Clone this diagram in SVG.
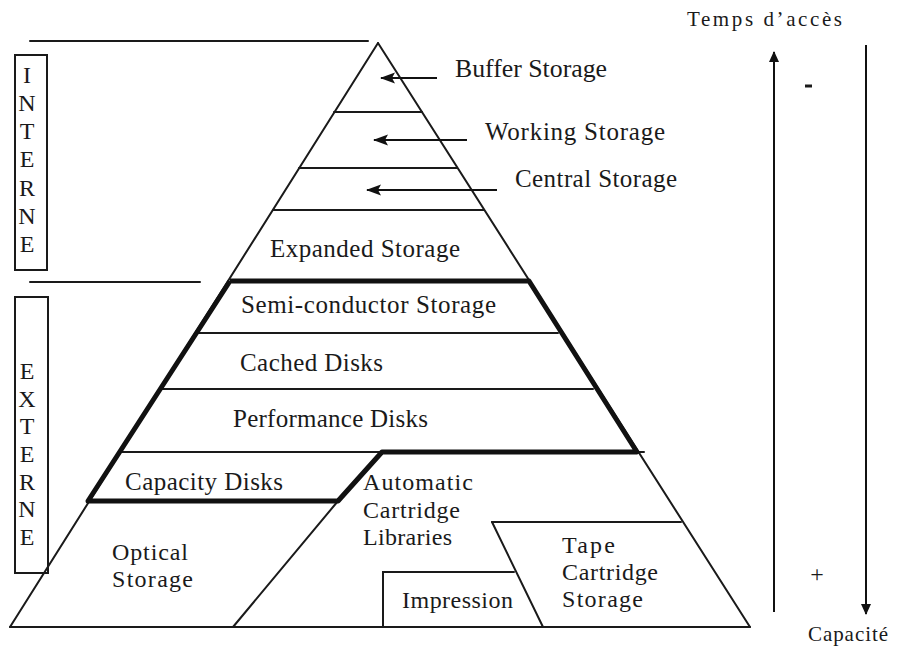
<svg xmlns="http://www.w3.org/2000/svg" width="900" height="649" viewBox="0 0 900 649">
<style>
.thin{stroke:#1a1a1a;stroke-width:2;fill:none;stroke-linecap:round}
.thick{stroke:#111;stroke-width:5;fill:none;stroke-linejoin:round;stroke-linecap:butt}
.box{stroke:#1a1a1a;stroke-width:2;fill:none}
text{font-family:"Liberation Serif","Times New Roman",serif;fill:#1a1a1a}
.lbl{font-size:25px}
.sm{font-size:24px}
.vl{font-size:24px;text-anchor:middle}
.ax{font-size:21px}
.arr{stroke:#111;stroke-width:2;fill:none}
</style>
<defs>
<marker id="ah" markerUnits="userSpaceOnUse" markerWidth="16" markerHeight="12" refX="14" refY="6" orient="auto">
<path d="M0,0.5 L15,6 L0,11.5 L3,6 z" fill="#111"/>
</marker>
<marker id="ah2" markerUnits="userSpaceOnUse" markerWidth="12" markerHeight="12" refX="10" refY="6" orient="auto">
<path d="M0,1 L11,6 L0,11 z" fill="#111"/>
</marker>
</defs>
<rect width="900" height="649" fill="#fff"/>

<g id="pyramid">
<line class="thin" x1="378" y1="43" x2="10" y2="627"/>
<line class="thin" x1="378" y1="43" x2="750" y2="627"/>
<line class="thin" x1="10" y1="627" x2="750" y2="627"/>
<line class="thin" x1="334" y1="112" x2="422" y2="112"/>
<line class="thin" x1="299" y1="168" x2="457" y2="168"/>
<line class="thin" x1="273" y1="210" x2="484" y2="210"/>
<line class="thin" x1="196" y1="333" x2="558" y2="333"/>
<line class="thin" x1="161" y1="389" x2="593" y2="389"/>
<line class="thin" x1="121" y1="452" x2="644" y2="452"/>
<line class="thin" x1="338" y1="501" x2="233" y2="627"/>
<polyline class="thin" points="492,522 681,522"/>
<line class="thin" x1="492" y1="522" x2="543" y2="627"/>
<polyline class="thin" points="383,627 383,572 514,572"/>
<polyline class="thick" points="230,281 529,281 637,452 382,452 338,501 88,501 230,281"/>
</g>

<g id="brackets">
<line class="thin" x1="30" y1="41" x2="368" y2="41"/>
<line class="thin" x1="30" y1="282" x2="200" y2="282"/>
</g>

<g id="interne">
<rect class="box" x="15" y="55" width="32" height="215"/>
<text class="vl" x="27" y="83">I</text>
<text class="vl" x="27" y="111">N</text>
<text class="vl" x="27" y="139">T</text>
<text class="vl" x="27" y="167">E</text>
<text class="vl" x="27" y="196">R</text>
<text class="vl" x="27" y="224">N</text>
<text class="vl" x="27" y="252">E</text>
</g>

<g id="externe">
<rect class="box" x="15" y="297" width="33" height="276"/>
<text class="vl" x="27" y="379">E</text>
<text class="vl" x="27" y="407">X</text>
<text class="vl" x="27" y="434">T</text>
<text class="vl" x="27" y="462">E</text>
<text class="vl" x="27" y="490">R</text>
<text class="vl" x="27" y="517">N</text>
<text class="vl" x="27" y="545">E</text>
</g>

<g id="buffer-storage"><text class="lbl" x="455" y="77" textLength="152" lengthAdjust="spacingAndGlyphs">Buffer Storage</text></g>
<g id="working-storage"><text class="lbl" x="485" y="140" textLength="180" lengthAdjust="spacing">Working Storage</text></g>
<g id="central-storage"><text class="lbl" x="515" y="187" textLength="162" lengthAdjust="spacing">Central Storage</text></g>
<g id="expanded-storage"><text class="lbl" x="270" y="257" textLength="190" lengthAdjust="spacing">Expanded Storage</text></g>
<g id="semi-conductor-storage"><text class="lbl" x="241" y="313" textLength="255" lengthAdjust="spacing">Semi-conductor Storage</text></g>
<g id="cached-disks"><text class="lbl" x="240" y="371" textLength="143" lengthAdjust="spacing">Cached Disks</text></g>
<g id="performance-disks"><text class="lbl" x="233" y="427" textLength="195" lengthAdjust="spacing">Performance Disks</text></g>
<g id="capacity-disks"><text class="lbl" x="125" y="490" textLength="158" lengthAdjust="spacing">Capacity Disks</text></g>
<g id="optical-storage">
<text class="sm" x="112" y="560" textLength="76" lengthAdjust="spacing">Optical</text>
<text class="sm" x="112" y="587" textLength="81" lengthAdjust="spacing">Storage</text>
</g>
<g id="automatic-cartridge-libraries">
<text class="sm" x="363" y="490" textLength="110" lengthAdjust="spacing">Automatic</text>
<text class="sm" x="363" y="518" textLength="97" lengthAdjust="spacing">Cartridge</text>
<text class="sm" x="363" y="545" textLength="89" lengthAdjust="spacing">Libraries</text>
</g>
<g id="tape-cartridge-storage">
<text class="sm" x="562" y="553" textLength="53" lengthAdjust="spacing">Tape</text>
<text class="sm" x="562" y="580" textLength="96" lengthAdjust="spacing">Cartridge</text>
<text class="sm" x="562" y="607" textLength="81" lengthAdjust="spacing">Storage</text>
</g>
<g id="impression"><text class="sm" x="402" y="608" textLength="111" lengthAdjust="spacing">Impression</text></g>

<g id="axis-labels">
<text class="ax" x="687" y="26" textLength="155" lengthAdjust="spacing">Temps d’accès</text>
<text class="ax" x="808" y="641" textLength="80" lengthAdjust="spacing">Capacité</text>
<line x1="805" y1="86" x2="812" y2="86" stroke="#1a1a1a" stroke-width="3"/>
<text x="817" y="582" font-size="24" text-anchor="middle">+</text>
</g>

<g id="connectors">
<line class="arr" x1="437" y1="78" x2="381" y2="78" marker-end="url(#ah)"/>
<line class="arr" x1="467" y1="140" x2="374" y2="140" marker-end="url(#ah)"/>
<line class="arr" x1="497" y1="190" x2="367" y2="190" marker-end="url(#ah)"/>
<line class="arr" x1="774" y1="612" x2="774" y2="52" marker-end="url(#ah2)"/>
<line class="arr" x1="866" y1="45" x2="866" y2="614" marker-end="url(#ah2)"/>
</g>
</svg>
